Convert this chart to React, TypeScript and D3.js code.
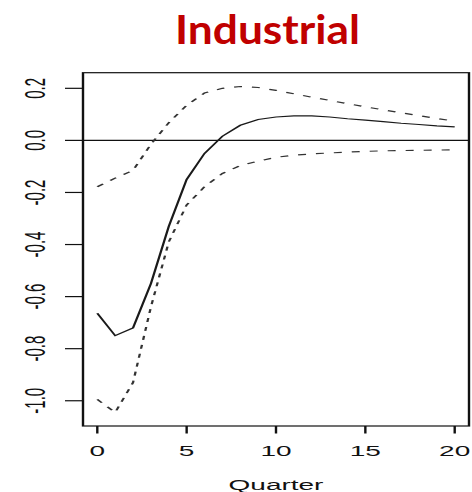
import React from "react";
import * as d3 from "d3";

// Impulse response of industrial output, with upper/lower confidence bands
const quarters = d3.range(0, 21);
const response = [
  -0.664, -0.75, -0.72, -0.55, -0.33, -0.15, -0.05, 0.016, 0.058, 0.08, 0.09,
  0.094, 0.094, 0.09, 0.083, 0.078, 0.072, 0.066, 0.061, 0.056, 0.052,
];
const upperBand = [
  -0.178, -0.145, -0.115, -0.015, 0.068, 0.135, 0.182, 0.2, 0.207, 0.203, 0.192,
  0.179, 0.166, 0.154, 0.141, 0.129, 0.117, 0.106, 0.095, 0.084, 0.074,
];
const lowerBand = [
  -0.995, -1.045, -0.93, -0.64, -0.39, -0.248, -0.178, -0.127, -0.097, -0.08,
  -0.065, -0.057, -0.052, -0.048, -0.045, -0.042, -0.04, -0.039, -0.038, -0.037,
  -0.036,
];
const xTicks = [0, 5, 10, 15, 20];
const yTicks = [-1.0, -0.8, -0.6, -0.4, -0.2, 0.0, 0.2];
const yTickLabels = ["-1.0", "-0.8", "-0.6", "-0.4", "-0.2", "0.0", "0.2"];

const W = 472;
const H = 492;
// the plot panel is drawn at half width and stretched horizontally
const SX = 2;
const left = 83;
const right = 469;
const top = 72.7;
const bottom = 426;

export default function App() {
  const x = d3.scaleLinear().domain([-0.8, 20.8]).range([left / SX, right / SX]);
  const y = d3.scaleLinear().domain([-1.097, 0.26]).range([bottom, top]);
  const line = d3
    .line<number>()
    .x((_, i) => x(quarters[i]))
    .y((d) => y(d));

  const font = "'Liberation Sans', Arial, Helvetica, sans-serif";

  return (
    <svg
      width={W}
      height={H}
      style={{ position: "absolute", left: 0, top: 0, background: "#fff" }}
    >
      <text
        x={175}
        y={44}
        textLength={185}
        lengthAdjust="spacingAndGlyphs"
        fill="#C00000"
        fontFamily="Lato, 'Open Sans', sans-serif"
        fontWeight={700}
        fontSize={41}
      >
        Industrial
      </text>
      <g transform={`scale(${SX},1)`}>
        {/* zero reference line */}
        <line
          x1={left / SX}
          x2={right / SX}
          y1={y(0)}
          y2={y(0)}
          stroke="#111"
          strokeWidth={1.2}
        />
        <path
          d={line(upperBand) ?? ""}
          fill="none"
          stroke="#333"
          strokeWidth={1.15}
          strokeDasharray="4 5"
        />
        <path
          d={line(lowerBand) ?? ""}
          fill="none"
          stroke="#333"
          strokeWidth={1.15}
          strokeDasharray="4 5"
        />
        <path
          d={line(response) ?? ""}
          fill="none"
          stroke="#1a1a1a"
          strokeWidth={1.15}
        />
        <rect
          x={left / SX}
          y={top}
          width={(right - left) / SX}
          height={bottom - top}
          fill="none"
          stroke="#111"
          strokeWidth={1.2}
        />
        {/* y axis */}
        {yTicks.map((t, i) => (
          <g key={`y${i}`}>
            <line
              x1={32.5}
              x2={left / SX}
              y1={y(t)}
              y2={y(t)}
              stroke="#111"
              strokeWidth={1.2}
            />
            <text
              transform={`translate(22.5,${y(t)}) rotate(-90)`}
              textAnchor="middle"
              fontFamily={font}
              fontSize={15}
              fill="#111"
            >
              {yTickLabels[i]}
            </text>
          </g>
        ))}
        {/* x axis */}
        {xTicks.map((t) => (
          <g key={`x${t}`}>
            <line
              x1={x(t)}
              x2={x(t)}
              y1={bottom}
              y2={433.5}
              stroke="#111"
              strokeWidth={1.2}
            />
            <text
              x={x(t)}
              y={455.7}
              textAnchor="middle"
              fontFamily={font}
              fontSize={14}
              fill="#111"
            >
              {t}
            </text>
          </g>
        ))}
        <text
          x={(left + right) / 2 / SX}
          y={490}
          textAnchor="middle"
          fontFamily={font}
          fontSize={14}
          fill="#111"
        >
          Quarter
        </text>
      </g>
    </svg>
  );
}
